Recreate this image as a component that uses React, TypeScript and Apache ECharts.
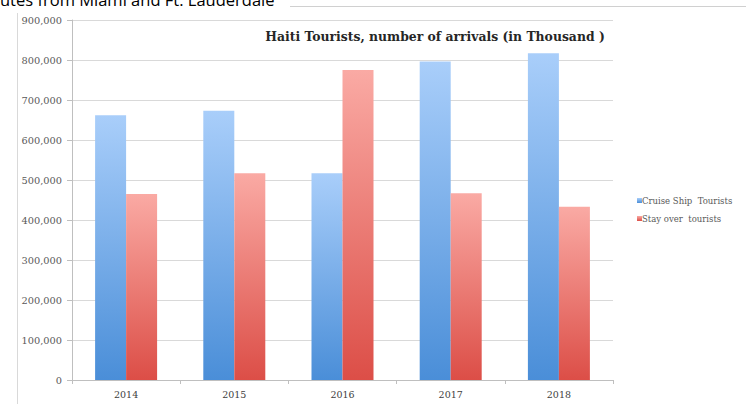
import React, { useEffect, useRef } from "react";
import * as echarts from "echarts";

const categories = ["2014", "2015", "2016", "2017", "2018"];
const cruiseShip = [662000, 673000, 517000, 796000, 817000];
const stayOver = [465000, 517000, 775000, 467000, 433000];
const seriesNames = ["Cruise Ship  Tourists", "Stay over  tourists"];
const titleText = "Haiti Tourists, number of arrivals (in Thousand )";
const topText = "utes from Miami and Ft. Lauderdale";

export default function App() {
  const ref = useRef<HTMLDivElement>(null);
  useEffect(() => {
    if (!ref.current) return;
    const chart = echarts.init(ref.current, null, { renderer: "svg" });
    const serif = "'DejaVu Serif', 'Liberation Serif', serif";
    const blue = new echarts.graphic.LinearGradient(0, 0, 0, 1, [
      { offset: 0, color: "#a9cefa" },
      { offset: 1, color: "#4a8ed8" },
    ]);
    const red = new echarts.graphic.LinearGradient(0, 0, 0, 1, [
      { offset: 0, color: "#faaaa4" },
      { offset: 1, color: "#dc4e47" },
    ]);
    chart.setOption({
      animation: false,
      backgroundColor: "#ffffff",
      grid: { left: 72, right: 133, top: 20, bottom: 24, containLabel: false },
      title: {
        text: titleText,
        left: 430,
        textAlign: "center",
        top: 25,
        textStyle: { fontFamily: serif, fontWeight: "bold", fontSize: 12.4, color: "#262626" },
      },
      legend: {
        orient: "vertical",
        left: 632,
        top: 191,
        itemWidth: 5,
        itemHeight: 5,
        itemGap: 9,
        icon: "rect",
        data: seriesNames,
        textStyle: { fontFamily: serif, fontSize: 8.5, color: "#595959", padding: [0, 0, 0, -5] },
      },
      xAxis: {
        type: "category",
        data: categories,
        axisLine: { lineStyle: { color: "#bfbfbf" } },
        axisTick: { show: true, length: 4, lineStyle: { color: "#bfbfbf" } },
        axisLabel: { fontFamily: serif, fontSize: 9.5, color: "#404040", margin: 9 },
      },
      yAxis: {
        type: "value",
        min: 0,
        max: 900000,
        interval: 100000,
        axisLine: { show: true, lineStyle: { color: "#bfbfbf" } },
        axisTick: { show: true, length: 5, lineStyle: { color: "#bfbfbf" } },
        splitLine: { lineStyle: { color: "#d9d9d9" } },
        axisLabel: {
          fontFamily: serif,
          fontSize: 9.8,
          color: "#595959",
          margin: 10,
          formatter: (v: number) => v.toLocaleString("en-US"),
        },
      },
      series: [
        {
          name: seriesNames[0],
          type: "bar",
          data: cruiseShip,
          barWidth: 31,
          barGap: "0%",
          itemStyle: { color: blue },
        },
        {
          name: seriesNames[1],
          type: "bar",
          data: stayOver,
          barWidth: 31,
          barGap: "0%",
          itemStyle: { color: red },
        },
      ],
      graphic: [
        {
          type: "polyline",
          silent: true,
          shape: { points: [[17.5, 404], [17.5, 13]] },
          style: { stroke: "#d9d9d9", lineWidth: 1, fill: "none" },
        },
        {
          type: "line",
          silent: true,
          shape: { x1: 290, y1: 6.5, x2: 746, y2: 6.5 },
          style: { stroke: "#d0d0d0", lineWidth: 1 },
        },
        {
          type: "text",
          left: 0,
          top: -9,
          style: {
            text: topText,
            font: "16.5px 'Open Sans', 'Liberation Sans', sans-serif",
            fill: "#000000",
          },
        },
      ],
    });
    return () => chart.dispose();
  }, []);
  return <div ref={ref} style={{ width: 746, height: 404, position: "absolute", left: 0, top: 0 }} />;
}
